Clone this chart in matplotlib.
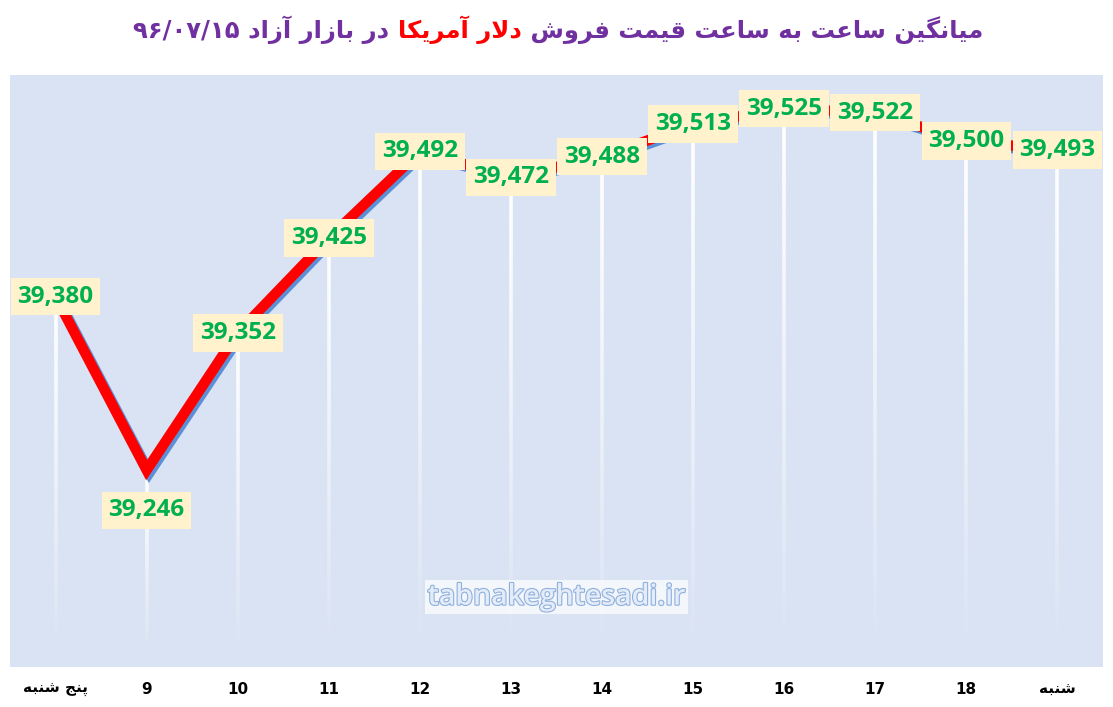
import numpy as np
import matplotlib
matplotlib.use("Agg")
import matplotlib.pyplot as plt
import matplotlib.patheffects as pe
from matplotlib.collections import LineCollection

# hourly average USD sell price, 96/07/15
hours = ["پنج شنبه", "9", "10", "11", "12", "13", "14", "15", "16", "17", "18", "شنبه"]
prices = [39380, 39246, 39352, 39425, 39492, 39472, 39488, 39513, 39525, 39522, 39500, 39493]

title_a = "میانگین ساعت به ساعت قیمت فروش"
title_b = "دلار آمریکا"
title_c = "در بازار آزاد"
title_date = "۹۶/۰۷/۱۵"
watermark = "tabnakeghtesadi.ir"

# small arabic/persian shaper (presentation forms): iso, fin, ini, med
FORMS = {
    "ا": (0xFE8D, 0xFE8E), "آ": (0xFE81, 0xFE82), "د": (0xFEA9, 0xFEAA),
    "ر": (0xFEAD, 0xFEAE), "ز": (0xFEAF, 0xFEB0), "و": (0xFEED, 0xFEEE),
    "ب": (0xFE8F, 0xFE90, 0xFE91, 0xFE92), "پ": (0xFB56, 0xFB57, 0xFB58, 0xFB59),
    "ت": (0xFE95, 0xFE96, 0xFE97, 0xFE98), "ج": (0xFE9D, 0xFE9E, 0xFE9F, 0xFEA0),
    "س": (0xFEB1, 0xFEB2, 0xFEB3, 0xFEB4), "ش": (0xFEB5, 0xFEB6, 0xFEB7, 0xFEB8),
    "ع": (0xFEC9, 0xFECA, 0xFECB, 0xFECC), "ف": (0xFED1, 0xFED2, 0xFED3, 0xFED4),
    "ق": (0xFED5, 0xFED6, 0xFED7, 0xFED8), "ک": (0xFB8E, 0xFB8F, 0xFB90, 0xFB91),
    "گ": (0xFB92, 0xFB93, 0xFB94, 0xFB95), "ل": (0xFEDD, 0xFEDE, 0xFEDF, 0xFEE0),
    "م": (0xFEE1, 0xFEE2, 0xFEE3, 0xFEE4), "ن": (0xFEE5, 0xFEE6, 0xFEE7, 0xFEE8),
    "ه": (0xFEE9, 0xFEEA, 0xFEEB, 0xFEEC), "ی": (0xFBFC, 0xFBFD, 0xFBFE, 0xFBFF),
}
LAMALEF = {"ا": (0xFEFB, 0xFEFC), "آ": (0xFEF5, 0xFEF6)}


def dual(c):
    return c in FORMS and len(FORMS[c]) == 4


def shape(s):
    chars = list(s)
    out = []
    i = 0
    while i < len(chars):
        c = chars[i]
        prev = chars[i - 1] if i > 0 else ""
        if c not in FORMS:
            out.append(c)
            i += 1
            continue
        join_prev = dual(prev)
        if c == "ل" and i + 1 < len(chars) and chars[i + 1] in LAMALEF:
            f = LAMALEF[chars[i + 1]]
            out.append(chr(f[1] if join_prev else f[0]))
            i += 2
            continue
        nxt = chars[i + 1] if i + 1 < len(chars) else ""
        join_next = dual(c) and nxt in FORMS
        f = FORMS[c]
        if join_prev and join_next:
            out.append(chr(f[3]))
        elif join_prev:
            out.append(chr(f[1]))
        elif join_next:
            out.append(chr(f[2]))
        else:
            out.append(chr(f[0]))
        i += 1
    return "".join(out)


def rtl(s):
    return shape(s)[::-1]


fig = plt.figure(figsize=(11.13, 7.07), dpi=100)
fig.patch.set_facecolor("white")
ax = fig.add_axes([10 / 1113, 40 / 707, 1093 / 1113, 592 / 707])
ax.set_facecolor("#dae3f3")
for s in ax.spines.values():
    s.set_visible(False)

x = np.arange(len(prices))
ymin, ymax = 39094, 39551
ax.set_xlim(-0.5, len(prices) - 0.5)
ax.set_ylim(ymin, ymax)
ax.set_yticks([])

# fading white drop lines
for xi, yi in zip(x, prices):
    n = 80
    ys = np.linspace(yi, ymin + 12, n + 1)
    segs = [[(xi, ys[k]), (xi, ys[k + 1])] for k in range(n)]
    t = np.linspace(0, 1, n)
    cols = [(1, 1, 1, (1 - tt) ** 0.9) for tt in t]
    ax.add_collection(LineCollection(segs, colors=cols, linewidths=2.6, zorder=2))

ax.plot(x, prices, color="#ff0000", lw=7.5, zorder=3, solid_capstyle="butt",
        solid_joinstyle="miter",
        path_effects=[pe.SimpleLineShadow(offset=(2, -2), shadow_color="#5b8fd6", alpha=1),
                      pe.Normal()])

for i, (xi, yi) in enumerate(zip(x, prices)):
    dy = -29 if i == 1 else 0
    ax.annotate(f"{yi:,}", (xi, yi), xytext=(0, dy), textcoords="offset points",
                ha="center", va="center", fontsize=17.5, fontweight="bold",
                color="#00b050", family="Open Sans", zorder=5,
                bbox=dict(boxstyle="square,pad=0.28", fc="#fff2cc", ec="none"))

ax.set_xticks(x)
ax.set_xticklabels([rtl(h) if not h.isdigit() else h for h in hours],
                   fontsize=11, fontweight="bold",
                   family=["Liberation Sans Narrow", "DejaVu Sans"])
ax.tick_params(axis="x", length=0, pad=11)

ax.text(0.5, 0.118, watermark, transform=ax.transAxes, ha="center", va="center",
        fontsize=20.5, color="#e4ecf8", family="Open Sans", fontweight="semibold", zorder=4,
        bbox=dict(boxstyle="square,pad=0.08", fc="white", ec="none", alpha=0.7),
        path_effects=[pe.Stroke(linewidth=1.6, foreground="#8fb0de"), pe.Normal()])

# title in three colour runs, laid out right-to-left
purple = "#7030a0"
parts = [(title_date + " " + rtl(title_c) + " ", purple),
         (rtl(title_b), "#ff0000"),
         (" " + rtl(title_a), purple)]
texts = [fig.text(0, 0.958, s, color=c, fontsize=17.5, fontweight="bold",
                  family="DejaVu Sans", ha="left", va="center") for s, c in parts]
fig.canvas.draw()
r = fig.canvas.get_renderer()
widths = [t.get_window_extent(r).width for t in texts]
xpos = 558 - sum(widths) / 2
for t, w in zip(texts, widths):
    t.set_x(xpos / 1113)
    xpos += w

fig.savefig("out.png", dpi=100, facecolor="white")
